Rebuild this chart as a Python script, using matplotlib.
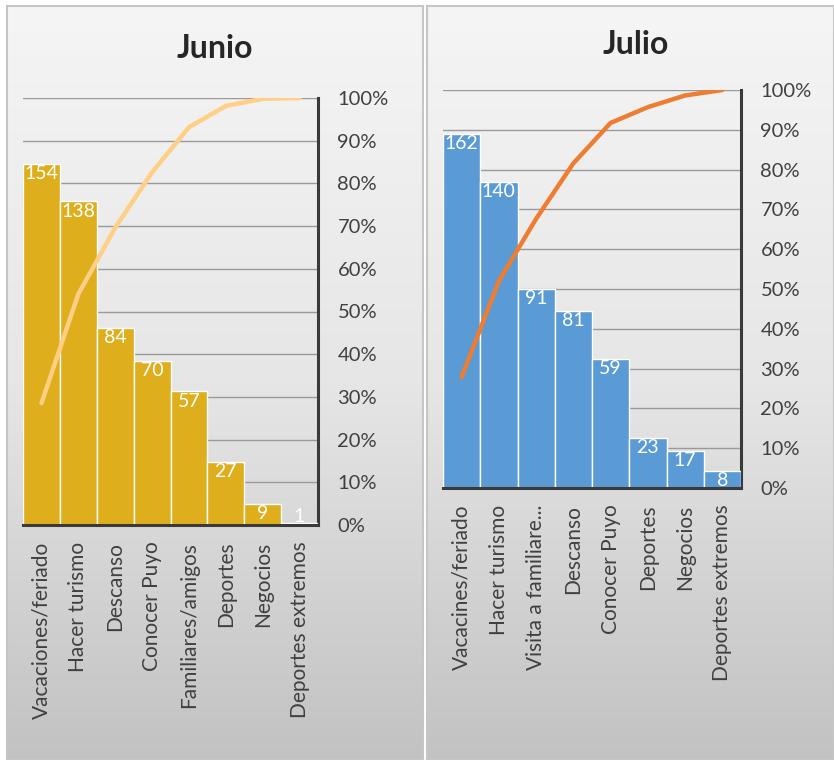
import numpy as np
import matplotlib.pyplot as plt
from matplotlib.colors import LinearSegmentedColormap

plt.rcParams['font.family'] = ['Lato', 'DejaVu Sans']

# datos
cat_junio = ["Vacaciones/feriado", "Hacer turismo", "Descanso", "Conocer Puyo",
             "Familiares/amigos", "Deportes", "Negocios", "Deportes extremos"]
val_junio = [154, 138, 84, 70, 57, 27, 9, 1]

cat_julio = ["Vacacines/feriado", "Hacer turismo", "Visita a familiare...", "Descanso",
             "Conocer Puyo", "Deportes", "Negocios", "Deportes extremos"]
val_julio = [162, 140, 91, 81, 59, 23, 17, 8]

pct_ticks = [0, 10, 20, 30, 40, 50, 60, 70, 80, 90, 100]

W, H = 834, 760
fig = plt.figure(figsize=(W/100, H/100), dpi=100)

fondo = LinearSegmentedColormap.from_list('fondo', ['#f5f5f5', '#e6e6e6', '#c2c2c2'])


def panel(x0, x1, top):
    bg = fig.add_axes([x0/W, 0, (x1-x0)/W, 1 - top/H])
    grad = np.linspace(0, 1, 256).reshape(-1, 1)
    bg.imshow(grad, cmap=fondo, aspect='auto', extent=[0, 1, 0, 1], origin='upper')
    bg.set_xticks([]); bg.set_yticks([])
    for s in bg.spines.values():
        s.set_color('#c6c6c6'); s.set_linewidth(1.5)
    bg.set_zorder(-10)


def grafica(px, titulo, cats, vals, c_barra, c_linea, tx, ty):
    x0, x1, y0, y1 = px  # izquierda, derecha, arriba(100%), abajo(0%)
    rect = [x0/W, 1 - y1/H, (x1-x0)/W, (y1-y0)/H]
    ax = fig.add_axes(rect)
    ax_pct = ax.twinx()
    ax_lin = ax.twinx()
    ax_pct.set_zorder(1); ax.set_zorder(2); ax_lin.set_zorder(3)
    for a in (ax, ax_pct, ax_lin):
        a.patch.set_visible(False)
        for s in a.spines.values():
            s.set_visible(False)

    x = np.arange(len(vals))
    ax.bar(x, vals, width=1, color=c_barra, edgecolor='white', linewidth=1)
    ax.set_xlim(-0.5, len(vals) - 0.5)
    ax.set_ylim(0, 182)
    ax.set_yticks([])
    ax.set_xticks(x)
    ax.set_xticklabels(cats, rotation=90, fontsize=15, color='#404040')
    ax.tick_params(axis='x', length=0, pad=12)
    ax.spines['bottom'].set_visible(True)
    ax.spines['bottom'].set_color('#3a3a3a')
    ax.spines['bottom'].set_linewidth(2.2)
    for i, v in enumerate(vals):
        ax.annotate(str(v), (i, max(v, 8)), xytext=(0, -1), textcoords='offset points',
                    ha='center', va='top', color='white', fontsize=14)

    # eje de porcentajes con la cuadricula
    ax_pct.set_ylim(0, 100)
    ax_pct.set_yticks(pct_ticks)
    ax_pct.set_yticklabels([str(p) + '%' for p in pct_ticks], fontsize=14.5, color='#404040')
    ax_pct.tick_params(axis='y', length=0, pad=14)
    ax_pct.grid(axis='y', color='#9a9a9a', linewidth=1)
    ax_pct.spines['right'].set_visible(True)
    ax_pct.spines['right'].set_color('#3a3a3a')
    ax_pct.spines['right'].set_linewidth(2.2)

    acum = np.cumsum(vals) / np.sum(vals) * 100
    ax_lin.plot(x, acum, color=c_linea, linewidth=3.2, solid_capstyle='round',
                solid_joinstyle='round')
    ax_lin.set_ylim(0, 100)
    ax_lin.set_yticks([])

    fig.text(tx/W, 1 - ty/H, titulo, ha='center', va='center', fontsize=23,
             fontweight='bold', color='#262626')


panel(7, 423, 6)
panel(427, 834, 6)

grafica((23, 318, 98, 525), 'Junio', cat_junio, val_junio, '#DEAE1C', '#FFCF85', 215, 48)
grafica((443, 741, 90, 488), 'Julio', cat_julio, val_julio, '#5B9BD5', '#ED7D31', 636, 44)

plt.savefig('out.png', dpi=100)
